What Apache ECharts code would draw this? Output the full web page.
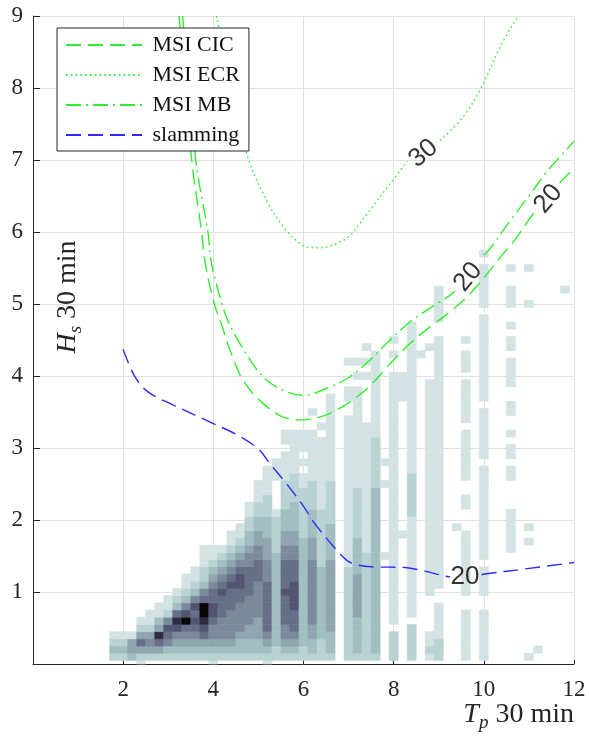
<!DOCTYPE html>
<html>
<head>
<meta charset="utf-8">
<script src="https://cdn.jsdelivr.net/npm/echarts@6/dist/echarts.min.js"></script>
<style>
  html, body { margin: 0; padding: 0; background: #fff; }
  #chart { width: 589px; height: 740px; }
</style>
</head>
<body>
<div id="chart"></div>
<script>
// Joint occurrence of peak period Tp and significant wave height Hs (30 min records)
const tpBinWidth = 0.2;
const hsBinWidth = 0.1;

// One string per Tp column: occurrence level (1 = rare ... 9 = most frequent)
// for Hs bins 0.0, 0.1, 0.2, ... ; '0' = no records. Spaces only group tens.
const tpColumns = [
  1.8, 2.0, 2.2, 2.4, 2.6, 2.8, 3.0, 3.2, 3.4, 3.6, 3.8, 4.0, 4.2, 4.4, 4.6, 4.8, 5.0,
  5.2, 5.4, 5.6, 5.8, 6.0, 6.2, 6.4, 6.6, 7.0, 7.2, 7.4, 7.6, 7.8, 8.0, 8.2, 8.4,
  8.6, 8.8, 9.0, 9.4, 9.6, 10.0, 10.6, 11.0, 11.2, 11.8
];
const hsColumnLevels = [
  "02321",
  "02321",
  "03441",
  "1246421",
  "02454211",
  "024684311",
  "0235675211",
  "0234578632 1",
  "0234569753 211",
  "0234567675 3211",
  "0234678996 5322111",
  "1234556776 6543211",
  "0234555666 7654321",
  "0234555566 676543211",
  "0233455556 6776543211",
  "0233445555 6666554332 211",
  "0233444555 5566655443 322111",
  "1234566666 6655544433 32221111",
  "0223333333 3333332222 2100001110",
  "0234556666 7666655443 3322221111 011",
  "0234566677 7766655443 3332222111 111",
  "0223333333 3333333322 2222211010 111",
  "0233445555 5555544433 3322221111 111001",
  "0222333333 3333222222 2211111111 1101",
  "0233344444 4444433333 2222221111 11111111",
  "0222222222 2222111111 1111111111 1111100110 001",
  "0233333444 4443333322 2222211111 1111111110 101",
  "0222222222 2222221111 1111111111 1111000000 10101",
  "0233333333 3333333333 3333322222 2211111111 1111",
  "0000000000 0000010000 0000010010",
  "0222201111 1111111111 1111111111 1111111111 100101",
  "0000000000 0000000010 0000000000 0000000111 1",
  "0222220111 1111111111 1222222111 1111111111 11111111",
  "0000000000 0000000000 0000000000 0000000000 0001",
  "0121100000 1111111111 1111111111 1111111111 00001",
  "0222111110 0111111111 1111111111 1111111111 1111110011 111",
  "0000000000 0000000001",
  "0111111100 1111111110 0011001111 1110111111 011101",
  "0111111100 1111011111 1111111101 1111110111 1111111110 11111101",
  "0000000000 0000001111 1100001101 1010011001 1110110100 111001",
  "0100000000 0000000101 0000000000 0000000000 0000000000 100001",
  "001",
  "0000000000 0000000000 0000000000 0000000000 0000000000 001"
];

// Contour lines [Tp, Hs]; null breaks the line where its level label sits
const msiCIC = [
  [3.24, 9.0], [3.52, 7.0], [3.74, 6.0], [3.81, 5.61], [4.0, 5.05], [4.2, 4.68],
  [4.37, 4.36], [4.66, 3.94], [5.1, 3.62], [5.55, 3.43], [5.99, 3.39], [6.3, 3.42],
  [6.59, 3.48], [7.03, 3.64], [7.47, 3.86], [7.92, 4.17], [8.36, 4.45], [8.8, 4.68],
  [9.25, 4.89], [9.69, 5.14], [10.14, 5.47], [10.43, 5.70], [10.69, 5.89], [11.02, 6.19],
  [11.2, 6.34], [11.4, null], [11.68, 6.68], [11.91, 6.83], [12.0, 6.88]
];
const msiECR = [
  [4.07, 9.0], [4.3, 8.3], [4.74, 7.09], [5.18, 6.44], [5.62, 6.02], [5.92, 5.84],
  [6.07, 5.79], [6.37, 5.78], [6.7, 5.83], [7.03, 5.95], [7.25, 6.12], [7.47, 6.30],
  [7.92, 6.67], [8.3, 6.98], [8.6, null], [9.03, 7.27], [9.54, 7.6], [9.95, 8.01],
  [10.36, 8.57], [10.76, 9.0]
];
const msiMB = [
  [3.32, 9.0], [3.61, 7.0], [3.88, 6.0], [3.95, 5.6], [4.08, 5.25], [4.29, 4.82],
  [4.59, 4.45], [5.1, 3.99], [5.55, 3.80], [5.99, 3.73], [6.59, 3.85], [7.03, 3.99],
  [7.47, 4.22], [7.92, 4.50], [8.36, 4.75], [8.8, 4.94], [9.25, 5.12], [9.36, 5.18],
  [9.6, null], [10.0, 5.68], [10.14, 5.77], [10.6, 6.17], [11.0, 6.5], [11.4, 6.84],
  [11.8, 7.12], [12.0, 7.26]
];
const slamming = [
  [2.0, 4.37], [2.26, 3.99], [2.55, 3.78], [3.1, 3.6], [4.0, 3.34], [4.59, 3.16],
  [5.03, 2.97], [5.22, 2.81], [5.59, 2.53], [5.99, 2.20], [6.25, 1.95], [6.84, 1.51],
  [7.07, 1.40], [7.51, 1.35], [8.25, 1.34], [8.69, 1.29], [9.14, 1.22], [9.25, 1.21],
  [9.6, null], [9.95, 1.24], [10.02, 1.25], [10.91, 1.32], [12.0, 1.41]
];

// Contour level labels
const labelTp = [8.66, 9.65, 11.43, 9.58];
const labelHs = [7.09, 5.375, 6.46, 1.21];
const labelLevel = [30, 20, 20, 20];
const labelAngle = [40, 50, 50, 0];

const xTicks = [2, 4, 6, 8, 10, 12];
const yTicks = [1, 2, 3, 4, 5, 6, 7, 8, 9];

// Reversed "bone" colour ramp for occurrence levels
function bone(t) {
  const r = Math.min(1, t / 0.375);
  const g = Math.min(1, Math.max(0, (t - 0.375) / 0.375));
  const b = Math.max(0, (t - 0.75) / 0.25);
  const c = v => Math.round(Math.min(1, v) * 255);
  return 'rgb(' + c((7 * t + b) / 8) + ',' + c((7 * t + g) / 8) + ',' + c((7 * t + r) / 8) + ')';
}
const levelT = [1, 0.875, 0.80, 0.72, 0.64, 0.55, 0.46, 0.37, 0.20, 0.03];
const levelColors = levelT.map(bone);

const cells = [];
tpColumns.forEach((tp, i) => {
  const s = hsColumnLevels[i].replace(/\s/g, '');
  for (let k = 0; k < s.length; k++) {
    const lv = +s[k];
    if (lv > 0) cells.push([tp, k * hsBinWidth, lv]);
  }
});

const serif = 'Liberation Serif';
const sans = 'Liberation Sans';
const axisColor = '#262626';
const green = '#2ef02e';
const blue = '#2b2bff';

const nameRich = {
  it: { fontFamily: serif, fontStyle: 'italic', fontSize: 28, lineHeight: 34, fill: axisColor },
  sub: { fontFamily: serif, fontStyle: 'italic', fontSize: 19, lineHeight: 34, padding: [16, 0, 0, 0], fill: axisColor },
  rm: { fontFamily: serif, fontSize: 28, lineHeight: 34, fill: axisColor }
};

const chart = echarts.init(document.getElementById('chart'), null, { renderer: 'canvas' });

chart.setOption({
  animation: false,
  backgroundColor: '#fff',
  grid: { left: 33, top: 16, width: 541, height: 648, containLabel: false, outerBoundsMode: 'none' },
  xAxis: {
    type: 'value', min: 0, max: 12, interval: 2,
    axisLine: { show: true, onZero: false, lineStyle: { color: axisColor, width: 1 } },
    axisTick: { show: true, inside: true, length: 4, lineStyle: { color: axisColor } },
    axisLabel: {
      margin: 14, fontFamily: serif, fontSize: 23, color: axisColor,
      formatter: v => (xTicks.indexOf(v) >= 0 ? String(v) : '')
    },
    splitLine: { show: true, lineStyle: { color: '#e0e0e0', width: 1 } }
  },
  yAxis: {
    type: 'value', min: 0, max: 9, interval: 1,
    axisLine: { show: true, onZero: false, lineStyle: { color: axisColor, width: 1 } },
    axisTick: { show: true, inside: true, length: 7, lineStyle: { color: axisColor } },
    axisLabel: {
      margin: 10, fontFamily: serif, fontSize: 23, color: axisColor,
      formatter: v => (yTicks.indexOf(v) >= 0 ? String(v) : '')
    },
    splitLine: { show: true, lineStyle: { color: '#e0e0e0', width: 1 } }
  },
  legend: {
    data: ['MSI CIC', 'MSI ECR', 'MSI MB', 'slamming'],
    orient: 'vertical', left: 57, top: 28,
    padding: [6, 9, 5, 8],
    itemWidth: 76, itemHeight: 14, itemGap: 8,
    itemStyle: { opacity: 0 },
    backgroundColor: '#fff', borderColor: axisColor, borderWidth: 1, borderRadius: 0,
    formatter: name => ' ' + name,
    textStyle: { fontFamily: serif, fontSize: 22, color: '#111' }
  },
  graphic: [
    {
      // x-axis title
      type: 'text', x: 574, y: 715,
      style: { text: '{it|T}{sub|p}{rm| 30 min}', align: 'right', verticalAlign: 'middle', rich: nameRich }
    },
    {
      // y-axis title
      type: 'text', x: 68, y: 297, rotation: Math.PI / 2,
      style: { text: '{it|H}{sub|s}{rm| 30 min}', align: 'center', verticalAlign: 'middle', rich: nameRich }
    }
  ],
  series: [
    {
      name: 'occurrence', type: 'custom', data: cells, silent: true,
      renderItem(params, api) {
        const tp = api.value(0), hs = api.value(1), lv = api.value(2);
        const p0 = api.coord([tp - tpBinWidth / 2, hs + hsBinWidth / 2]);
        const p1 = api.coord([tp + tpBinWidth / 2, hs - hsBinWidth / 2]);
        const cs = params.coordSys;
        const rect = echarts.graphic.clipRectByRect(
          { x: p0[0], y: p0[1], width: p1[0] - p0[0], height: p1[1] - p0[1] },
          { x: cs.x, y: cs.y, width: cs.width, height: cs.height }
        );
        if (!rect) return;
        const col = levelColors[lv];
        return { type: 'rect', shape: rect, style: { fill: col, stroke: col, lineWidth: 0.6 } };
      }
    },
    {
      name: 'MSI CIC', type: 'line', data: msiCIC, symbol: 'none', smooth: 0.35,
      lineStyle: { color: green, width: 1.4, type: [15, 7] }, itemStyle: { color: green }
    },
    {
      name: 'MSI ECR', type: 'line', data: msiECR, symbol: 'none', smooth: 0.35,
      lineStyle: { color: green, width: 1.4, type: [1.6, 3.2] }, itemStyle: { color: green }
    },
    {
      name: 'MSI MB', type: 'line', data: msiMB, symbol: 'none', smooth: 0.35,
      lineStyle: { color: green, width: 1.4, type: [15, 5, 2, 5] }, itemStyle: { color: green }
    },
    {
      name: 'slamming', type: 'line', data: slamming, symbol: 'none', smooth: 0.35,
      lineStyle: { color: blue, width: 1.4, type: [15, 7] }, itemStyle: { color: blue }
    },
    {
      name: 'levels', type: 'scatter', symbolSize: 0, silent: true,
      data: labelTp.map((tp, i) => ({
        value: [tp, labelHs[i], labelLevel[i]],
        label: { rotate: labelAngle[i] }
      })),
      label: {
        show: true, position: 'inside', formatter: p => String(p.value[2]),
        fontFamily: sans, fontSize: 26, color: '#000'
      }
    }
  ]
});
</script>
</body>
</html>
